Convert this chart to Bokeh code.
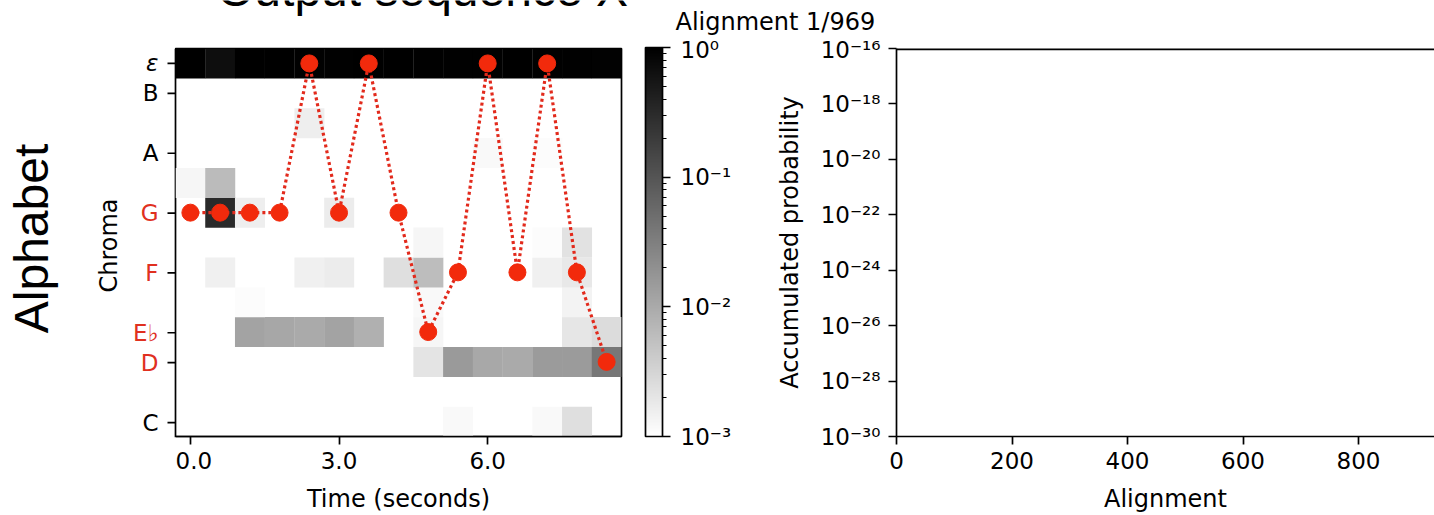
import math
from bokeh.plotting import figure
from bokeh.models import (Range1d, FixedTicker, LogColorMapper, ColorBar, Label,
                          ColumnDataSource, CustomJSTickFormatter, PrintfTickFormatter, Span)
from bokeh.layouts import row, column
from bokeh.transform import transform
from bokeh.core.properties import value
from bokeh.embed import file_html
from bokeh.resources import INLINE

# ---------------- data ----------------
times = [0.0, 0.6, 1.2, 1.8, 2.4, 3.0, 3.6, 4.2, 4.8, 5.4, 6.0, 6.6, 7.2, 7.8, 8.4]

# emission probabilities per chroma row (bottom to top), one value per frame
prob_C   = [0, 0, 0, 0, 0, 0, 0, 0, 0, 0.0012, 0, 0, 0.0012, 0.0024, 0]
prob_Cs  = [0, 0, 0, 0, 0, 0, 0, 0, 0, 0, 0, 0, 0, 0, 0]
prob_D   = [0, 0, 0, 0, 0, 0, 0, 0, 0.0021, 0.0155, 0.0105, 0.010, 0.015, 0.015, 0.04]
prob_Eb  = [0, 0, 0.012, 0.011, 0.010, 0.012, 0.0085, 0, 0.0013, 0, 0, 0, 0, 0.002, 0.0026]
prob_E   = [0, 0, 0.0011, 0, 0, 0, 0, 0, 0.0012, 0, 0, 0, 0, 0.0014, 0]
prob_F   = [0, 0.0015, 0, 0, 0.0015, 0.0017, 0, 0.0024, 0.006, 0, 0, 0, 0.0015, 0.0019, 0]
prob_Fs  = [0, 0, 0, 0, 0, 0, 0, 0, 0.0013, 0, 0, 0, 0.0011, 0.0022, 0]
prob_G   = [0, 0.32, 0.0016, 0, 0, 0.0017, 0, 0, 0, 0, 0, 0, 0, 0, 0]
prob_Gs  = [0.0013, 0.0063, 0, 0, 0, 0, 0, 0, 0, 0, 0, 0, 0, 0, 0]
prob_A   = [0, 0, 0, 0, 0, 0, 0, 0, 0, 0, 0.0012, 0, 0.0011, 0, 0]
prob_Bb  = [0, 0, 0, 0, 0.0016, 0, 0, 0, 0, 0, 0, 0, 0, 0, 0]
prob_B   = [0, 0, 0, 0, 0, 0, 0, 0, 0, 0, 0, 0, 0, 0, 0]
prob_eps = [0.99, 0.68, 0.99, 0.99, 0.97, 0.97, 0.98, 0.98, 0.97, 0.97, 0.97, 0.98, 0.97, 0.95, 0.94]

# alignment path: chroma row index per frame (12 = blank symbol)
path_rows = [7, 7, 7, 7, 12, 7, 12, 7, 3, 5, 12, 5, 12, 5, 2]

tick_rows = [0, 2, 3, 5, 7, 9, 11, 12]
tick_labels = ["C", "D", "E\u266d", "F", "G", "A", "B", "\u03b5"]
blank_row = 12

time_ticks = [0.0, 3.0, 6.0]
cbar_ticks = [1e-3, 1e-2, 1e-1, 1.0]
acc_ticks = [1e-30, 1e-28, 1e-26, 1e-24, 1e-22, 1e-20, 1e-18, 1e-16]
align_ticks = [0, 200, 400, 600, 800]
n_alignments = 969
current_alignment = 1

# ---------------- styling ----------------
RED_DOT = "#f22a0c"
RED_LINE = "#e22a1c"
RED_TXT = "#e0301f"
FONT = "DejaVu Sans"
TICK_PX = "23px"
LABEL_PX = "24px"
LW = 1.7

LEFT_W = 175      # width of the label column left of the heatmap
TOP_H = 36        # height of the strip holding the titles
FRAME_TOP = 12    # remaining top border below the strip
FRAME_BOTTOM = 78
TOTAL_H = 515

grays = ["#%02x%02x%02x" % (v, v, v) for v in range(255, -1, -1)]
mapper = LogColorMapper(palette=grays, low=cbar_ticks[0], high=cbar_ticks[-1],
                        low_color="#ffffff", high_color="#000000")

prob_rows = [prob_C, prob_Cs, prob_D, prob_Eb, prob_E, prob_F, prob_Fs,
             prob_G, prob_Gs, prob_A, prob_Bb, prob_B, prob_eps]
cx, cy, cp = [], [], []
for r, vals in enumerate(prob_rows):
    for c, v in enumerate(vals):
        if v > 0:
            cx.append(times[c]); cy.append(r); cp.append(v)
cells = ColumnDataSource(dict(x=cx, y=cy, prob=cp))
dt = times[1] - times[0]
heat_y = Range1d(-0.5, len(prob_rows) - 0.5)


def style_axis(ax):
    ax.axis_line_width = LW
    ax.axis_line_color = "black"
    ax.major_tick_line_width = LW
    ax.major_tick_line_color = "black"
    ax.major_tick_out = 8
    ax.major_tick_in = 0
    ax.minor_tick_line_color = None
    ax.major_label_text_font = FONT
    ax.major_label_text_font_size = TICK_PX
    ax.major_label_text_color = "black"
    ax.axis_label_text_font = FONT
    ax.axis_label_text_font_size = LABEL_PX
    ax.axis_label_text_font_style = "normal"
    ax.axis_label_text_color = "black"


def bare(fig):
    fig.grid.visible = False
    fig.outline_line_color = None
    fig.background_fill_color = "white"
    fig.border_fill_color = "white"


# ---------------- chroma labels column ----------------
left = figure(width=LEFT_W, height=TOTAL_H, x_range=Range1d(0, LEFT_W), y_range=heat_y,
              toolbar_location=None, output_backend="svg", x_axis_location=None,
              y_axis_location=None, min_border_left=0, min_border_right=0,
              min_border_top=TOP_H + FRAME_TOP, min_border_bottom=FRAME_BOTTOM)
bare(left)

out_rows = set(path_rows) - {blank_row}
tick_src = ColumnDataSource(dict(
    y=tick_rows, text=tick_labels,
    color=[RED_TXT if r in out_rows else "black" for r in tick_rows],
    style=["italic" if r == blank_row else "normal" for r in tick_rows]))
left.text(x=LEFT_W - 17, y="y", text="text", source=tick_src, text_color="color",
          text_font_style="style", text_align="right", text_baseline="middle",
          text_font=value(FONT), text_font_size=value(TICK_PX))
left.segment(x0=LEFT_W - 8, x1=LEFT_W, y0=tick_rows, y1=tick_rows,
             line_color="black", line_width=LW)
left.segment(x0=[LEFT_W], x1=[LEFT_W], y0=[heat_y.start], y1=[heat_y.end],
             line_color="black", line_width=LW)

left.add_layout(Label(x=108, y=192, x_units="screen", y_units="screen", angle=math.pi / 2,
                      text="Chroma", text_font=FONT, text_font_size=LABEL_PX,
                      text_align="center", text_baseline="alphabetic", text_color="black"))
left.add_layout(Label(x=31, y=199, x_units="screen", y_units="screen", angle=math.pi / 2,
                      text="Alphabet", text_font="Liberation Sans", text_font_size="48px",
                      text_align="center", text_baseline="alphabetic", text_color="black"))

# ---------------- title strip ----------------
strip_w = 1434 - LEFT_W
strip = figure(width=strip_w, height=TOP_H, x_range=Range1d(0, strip_w),
               y_range=Range1d(0, TOP_H), toolbar_location=None, output_backend="svg",
               x_axis_location=None, y_axis_location=None, min_border_left=0,
               min_border_right=0, min_border_top=0, min_border_bottom=0)
bare(strip)
strip.add_layout(Label(x=247, y=47, x_units="screen", y_units="screen",
                       text="Output sequence X", text_font="Liberation Sans",
                       text_font_size="48px", text_align="center",
                       text_baseline="alphabetic", text_color="black"))
strip.add_layout(Label(x=500, y=15, x_units="screen", y_units="screen",
                       text=f"Alignment {current_alignment}/{n_alignments}",
                       text_font=FONT, text_font_size=LABEL_PX, text_align="left",
                       text_baseline="alphabetic", text_color="black"))

# ---------------- heatmap with alignment path ----------------
p = figure(width=630 - LEFT_W, height=TOTAL_H - TOP_H,
           x_range=Range1d(times[0] - dt / 2, times[-1] + dt / 2), y_range=heat_y,
           toolbar_location=None, output_backend="svg", y_axis_location=None,
           min_border_left=0, min_border_right=9,
           min_border_top=FRAME_TOP, min_border_bottom=FRAME_BOTTOM)
p.grid.visible = False
p.outline_line_color = "black"
p.outline_line_width = LW
p.background_fill_color = "white"
p.border_fill_color = "white"

p.rect(x="x", y="y", width=dt, height=1, source=cells,
       fill_color=transform("prob", mapper), line_color=None, dilate=True)
p.line(times, path_rows, line_color=RED_LINE, line_width=3.2, line_dash="3 3")
p.scatter(times, path_rows, size=17, fill_color=RED_DOT, line_color=RED_DOT)

style_axis(p.xaxis[0])
p.xaxis.ticker = FixedTicker(ticks=time_ticks)
p.xaxis.formatter = PrintfTickFormatter(format="%.1f")
p.xaxis.axis_label = "Time (seconds)"
p.xaxis.major_label_standoff = 7
p.xaxis.axis_label_standoff = 13

# ---------------- accumulated probability panel ----------------
sup_fmt_code = """
const sup = {"-": "\u207b", "0": "\u2070", "1": "\u00b9", "2": "\u00b2", "3": "\u00b3",
             "4": "\u2074", "5": "\u2075", "6": "\u2076", "7": "\u2077", "8": "\u2078",
             "9": "\u2079"};
const e = Math.round(Math.log10(tick));
return "10" + String(e).split("").map((c) => sup[c]).join("");
"""

c = figure(width=804, height=TOTAL_H - TOP_H, x_range=Range1d(0, 931.6),
           y_range=Range1d(acc_ticks[0], acc_ticks[-1]), y_axis_type="log",
           toolbar_location=None, output_backend="svg", min_border_left=266,
           min_border_right=0, min_border_top=FRAME_TOP, min_border_bottom=FRAME_BOTTOM)
c.grid.visible = False
c.outline_line_color = None
c.background_fill_color = "white"
c.border_fill_color = "white"

style_axis(c.xaxis[0])
c.xaxis.ticker = FixedTicker(ticks=align_ticks)
c.xaxis.axis_label = "Alignment"
c.xaxis.major_label_standoff = 7
c.xaxis.axis_label_standoff = 13

style_axis(c.yaxis[0])
c.yaxis.ticker = FixedTicker(ticks=acc_ticks)
c.yaxis.formatter = CustomJSTickFormatter(code=sup_fmt_code)
c.yaxis.axis_label = "Accumulated probability"
c.yaxis.major_label_standoff = 8
c.yaxis.axis_label_standoff = 14

c.add_layout(Span(location=acc_ticks[-1], dimension="width", line_color="black",
                  line_width=2 * LW))

cbar_minor = [m * t for t in cbar_ticks[:-1] for m in range(2, 10)]
cb = ColorBar(color_mapper=mapper, location=(-251, 0), width=17, height=389,
              padding=0, margin=0,
              ticker=FixedTicker(ticks=cbar_ticks, minor_ticks=cbar_minor),
              formatter=CustomJSTickFormatter(code=sup_fmt_code),
              major_tick_out=8, major_tick_in=0, minor_tick_out=4, minor_tick_in=0,
              major_tick_line_color="black", major_tick_line_width=LW,
              minor_tick_line_color="black", minor_tick_line_width=1.2,
              bar_line_color="black", bar_line_width=LW, label_standoff=10,
              major_label_text_font=FONT, major_label_text_font_size=TICK_PX,
              major_label_text_color="black",
              background_fill_alpha=0, border_line_color=None)
c.add_layout(cb)

layout = row(left, column(strip, row(p, c, spacing=0), spacing=0), spacing=0)
open("out.html", "w").write(file_html(layout, INLINE))
